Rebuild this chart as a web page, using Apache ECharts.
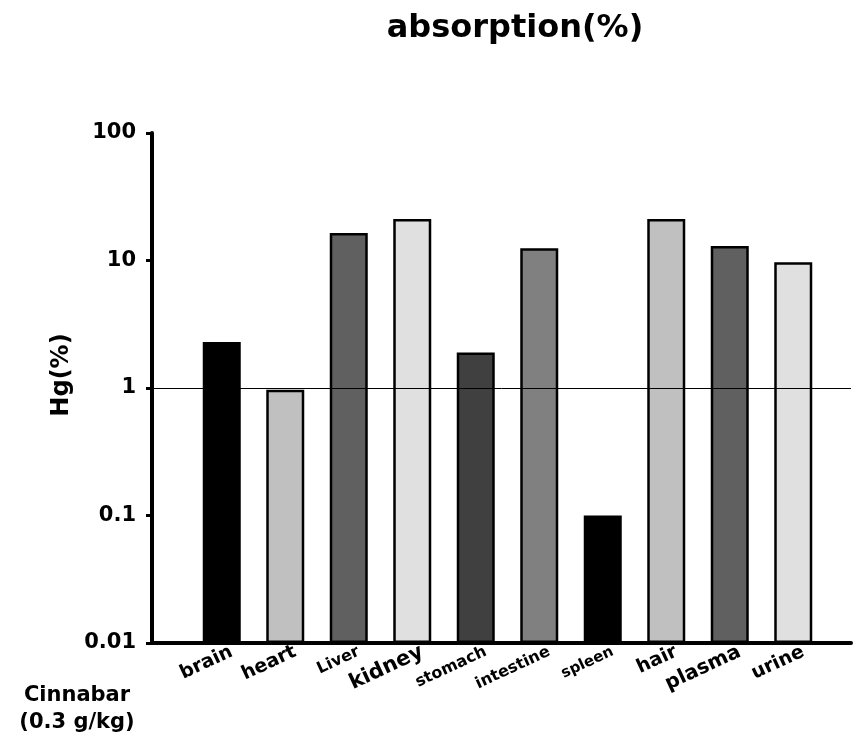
<!DOCTYPE html>
<html>
<head>
<meta charset="utf-8">
<script src="https://cdn.jsdelivr.net/npm/echarts@6/dist/echarts.min.js"></script>
<style>html,body{margin:0;padding:0;background:#fff}#c{width:853px;height:742px}</style>
</head>
<body>
<div id="c"></div>
<script>
const categories = ['brain','heart','Liver','kidney','stomach','intestine','spleen','hair','plasma','urine'];
const values = [2.3, 0.97, 16.4, 21.2, 1.9, 12.5, 0.1, 21.2, 13.0, 9.7];
const barColors = ['#000000','#c0c0c0','#606060','#e0e0e0','#404040','#808080','#000000','#c0c0c0','#606060','#e0e0e0'];
const labelSizes = [19,19,16,21,16,16,15,19,20,19];
const yTicks = [0.01, 0.1, 1, 10, 100];

const FONT = 'DejaVu Sans, Arial, sans-serif';
const chart = echarts.init(document.getElementById('c'));
const gTop = 133, gBottom = 742 - 643;
const yMin = yTicks[0], yMax = yTicks[yTicks.length - 1];

chart.setOption({
  backgroundColor: '#fff',
  animation: false,
  title: [
    {text: 'absorption(%)', left: 510, top: 8, textAlign: 'center',
     textStyle: {fontFamily: FONT, fontWeight: 'bold', fontSize: 32, color: '#000'}},
    {text: 'Cinnabar\n(0.3 g/kg)', left: 72, top: 677, textAlign: 'center',
     textStyle: {fontFamily: FONT, fontWeight: 'bold', fontSize: 21, lineHeight: 27, color: '#000'}}
  ],
  grid: [
    {left: 152, right: 2, top: gTop, bottom: gBottom},
    {left: 190, right: 28, top: gTop, bottom: gBottom},
    {left: 200, right: 18, top: gTop, bottom: gBottom}
  ],
  xAxis: [
    {gridIndex: 0, type: 'value', min: 0, max: 1,
     axisLine: {show: true, onZero: false, lineStyle: {color: '#000', width: 4}},
     axisTick: {show: false}, axisLabel: {show: false}, splitLine: {show: false}},
    {gridIndex: 1, type: 'category', data: categories,
     axisLine: {show: false}, axisTick: {show: false}, axisLabel: {show: false}},
    {gridIndex: 2, type: 'category',
     data: categories.map((c, i) => ({value: c, textStyle: {fontSize: labelSizes[i]}})),
     axisLine: {show: false}, axisTick: {show: false},
     axisLabel: {rotate: 25, margin: 8, interval: 0,
       fontFamily: FONT, fontWeight: 'bold', color: '#000'}}
  ],
  yAxis: [
    {gridIndex: 0, type: 'log', logBase: 10, min: yMin, max: yMax,
     axisLine: {show: true, lineStyle: {color: '#000', width: 4}},
     axisTick: {show: true, inside: false, length: 6, lineStyle: {color: '#000', width: 3}},
     axisLabel: {margin: 16, fontFamily: FONT, fontWeight: 'bold', fontSize: 21, color: '#000',
       formatter: v => String(+v.toPrecision(3))},
     splitLine: {show: false},
     name: 'Hg(%)', nameLocation: 'middle', nameGap: 76, nameRotate: 90,
     nameTextStyle: {fontFamily: FONT, fontWeight: 'bold', fontSize: 24, color: '#000',
       padding: [0, 0, 0, 26]}},
    {gridIndex: 1, type: 'log', logBase: 10, min: yMin, max: yMax,
     show: false, splitLine: {show: false}},
    {gridIndex: 2, type: 'value', show: false, splitLine: {show: false}}
  ],
  series: [
    {type: 'line', xAxisIndex: 0, yAxisIndex: 0, data: [],
     markLine: {silent: true, symbol: 'none', label: {show: false},
       lineStyle: {color: '#000', width: 1, type: 'solid'}, data: [{yAxis: 1}]}},
    {type: 'bar', xAxisIndex: 1, yAxisIndex: 1, barWidth: 38, stack: 'b', silent: true,
     data: values.map(() => yMin),
     itemStyle: {color: 'rgba(0,0,0,0)', borderWidth: 0}},
    {type: 'bar', xAxisIndex: 1, yAxisIndex: 1, barWidth: 38, stack: 'b',
     data: values.map((v, i) => ({value: v - yMin, itemStyle: {color: barColors[i]}})),
     itemStyle: {borderColor: '#000', borderWidth: 2.5}},
    {type: 'line', xAxisIndex: 2, yAxisIndex: 2, data: [], silent: true}
  ]
});
</script>
</body>
</html>
